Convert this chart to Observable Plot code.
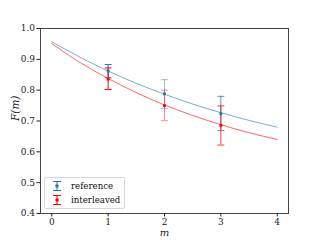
<!DOCTYPE html>
<html><head><meta charset="utf-8">
<script src="https://cdn.jsdelivr.net/npm/d3@7"></script>
<script src="https://cdn.jsdelivr.net/npm/@observablehq/plot@0.6"></script>
<style>
body{margin:0;background:#fff;}
#wrap{position:relative;width:320px;height:240px;font-family:"DejaVu Serif",serif;}
#wrap svg, #wrap svg text{font-family:"DejaVu Serif",serif !important;}
#legend{position:absolute;left:44px;top:177px;width:79px;height:30px;border:1px solid #d8d8d8;border-radius:2px;background:rgba(255,255,255,0.8);font-size:8.6px;color:#111;}
#legend .row{position:absolute;left:0;height:14px;display:flex;align-items:center;}
#legend svg{margin-left:7px;margin-right:9px;}
</style></head>
<body><div id="wrap"><div id="legend"></div></div>
<script>
const mValues = [1, 2, 3];
const refF = [0.862, 0.788, 0.724];
const refHi = [0.883, 0.834, 0.780];
const refLo = [0.840, 0.740, 0.669];
const intF = [0.836, 0.750, 0.686];
const intHi = [0.872, 0.800, 0.749];
const intLo = [0.802, 0.701, 0.622];
const barAlpha = [1, 0.45, 0.75];
const fitM = [0, 0.5, 1, 1.5, 2, 2.5, 3, 3.5, 4];
const refFit = [0.957, 0.907, 0.862, 0.822, 0.787, 0.755, 0.727, 0.702, 0.680];
const intFit = [0.951, 0.890, 0.838, 0.792, 0.752, 0.718, 0.688, 0.662, 0.640];
const xTicks = [0, 1, 2, 3, 4];
const yTicks = [0.4, 0.5, 0.6, 0.7, 0.8, 0.9, 1.0];
const seriesNames = ["reference", "interleaved"];
const colors = {reference: "#1f77b4", interleaved: "#ff0000"};

const pts = [];
mValues.forEach((m, i) => {
  pts.push({s: "reference", m, f: refF[i], hi: refHi[i], lo: refLo[i], a: barAlpha[i]});
  pts.push({s: "interleaved", m, f: intF[i], hi: intHi[i], lo: intLo[i], a: barAlpha[i]});
});
const fits = [];
fitM.forEach((m, i) => {
  fits.push({s: "reference", m, f: refFit[i]});
  fits.push({s: "interleaved", m, f: intFit[i]});
});
const cap = 0.062;

const chart = Plot.plot({
  width: 320, height: 240,
  marginLeft: 40, marginRight: 32, marginTop: 28, marginBottom: 27,
  style: {fontFamily: "'DejaVu Serif', serif", fontSize: "9px", color: "#222", background: "transparent"},
  x: {domain: [-0.2, 4.2], ticks: xTicks, tickFormat: d3.format("d"), tickSize: 3.5, label: null},
  y: {domain: [0.4, 1.0], ticks: yTicks, tickFormat: d3.format(".1f"), tickSize: 3.5, label: null},
  marks: [
    Plot.line(fits, {x: "m", y: "f", z: "s", stroke: d => colors[d.s], strokeOpacity: 0.6, strokeWidth: 1, curve: "natural"}),
    Plot.ruleX(pts, {x: "m", y1: "lo", y2: "hi", stroke: d => colors[d.s], strokeOpacity: "a", strokeWidth: 1}),
    Plot.link(pts, {x1: d => d.m - cap, x2: d => d.m + cap, y1: "hi", y2: "hi", stroke: d => colors[d.s], strokeOpacity: "a", strokeWidth: 1}),
    Plot.link(pts, {x1: d => d.m - cap, x2: d => d.m + cap, y1: "lo", y2: "lo", stroke: d => colors[d.s], strokeOpacity: "a", strokeWidth: 1}),
    Plot.dot(pts, {x: "m", y: "f", symbol: "square", r: 1.6, fill: d => colors[d.s], stroke: null}),
    Plot.frame({stroke: "#444", strokeWidth: 1}),
    Plot.axisX({ticks: xTicks, tickFormat: d3.format("d"), tickSize: 3.5, tickPadding: 2, label: null}),
    Plot.axisY({ticks: yTicks, tickFormat: d3.format(".1f"), tickSize: 3.5, tickPadding: 2, label: null}),
    Plot.text(["m"], {frameAnchor: "bottom", dy: 19, lineAnchor: "middle", fontStyle: "italic", fontSize: 10, text: d => d}),
    Plot.text(["F(m)"], {frameAnchor: "left", dx: -25, rotate: -90, fontStyle: "italic", fontSize: 10.5, text: d => d})
  ]
});
document.getElementById("wrap").prepend(chart);

const leg = document.getElementById("legend");
seriesNames.forEach((s, i) => {
  const c = colors[s];
  const row = document.createElement("div");
  row.className = "row";
  row.style.top = (1 + i * 14) + "px";
  row.innerHTML = `<svg width="10" height="12"><line x1="5" y1="1" x2="5" y2="11" stroke="${c}"/><line x1="1" y1="1.5" x2="9" y2="1.5" stroke="${c}"/><line x1="1" y1="10.5" x2="9" y2="10.5" stroke="${c}"/><rect x="3.5" y="4.5" width="3" height="3" fill="${c}"/></svg><span>${s}</span>`;
  leg.appendChild(row);
});
</script></body></html>
